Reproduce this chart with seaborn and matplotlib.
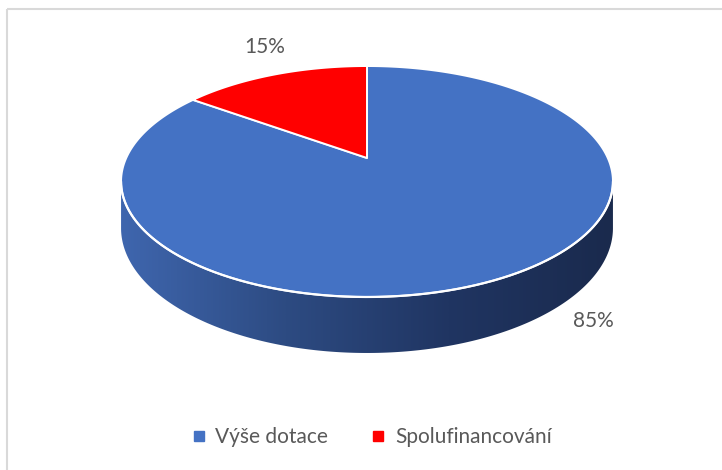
import numpy as np
import matplotlib
matplotlib.use("Agg")
import matplotlib.pyplot as plt
import seaborn as sns
from matplotlib.patches import Polygon, Rectangle
from matplotlib.lines import Line2D
from matplotlib.colors import LinearSegmentedColormap

# ---- data ----
categories = ["Výše dotace", "Spolufinancování"]
shares = [85, 15]
pct_labels = ["85%", "15%"]
colors = ["#4472C4", "#FF0000"]

sns.set_theme(style="white")
plt.rcParams['font.family'] = ['Lato', 'DejaVu Sans']

W, H = 722, 470
fig = plt.figure(figsize=(7.22, 4.70), dpi=100)
ax = fig.add_axes([0, 0, 1, 1])
ax.set_xlim(0, W)
ax.set_ylim(H, 0)
ax.axis('off')

# perspective pie geometry
cx, cy = 367, 158
a, b, k = 240.8, 110.7, 0.2035
h = 44.6

def proj(phi, r=1.0):
    u = r * np.cos(phi)
    v = r * np.sin(phi)
    s = 1 + k * v
    return cx + a * u / s, cy - b * v / s

def drop(phi):
    return h / (1 + k * np.sin(phi))

total = float(sum(shares))
start = np.pi / 2
red_frac = shares[1] / total
bounds = {
    1: (start, start + 2 * np.pi * red_frac),
    0: (start + 2 * np.pi * red_frac, start + 2 * np.pi),
}

# ---- side (front of cylinder) with gradient ----
phi_l = np.pi + np.arcsin(k)
phi_r = 2 * np.pi - np.arcsin(k)
ts = np.linspace(phi_l, phi_r, 400)
tx, ty = proj(ts)
by = ty + drop(ts)
side_pts = list(zip(tx, ty)) + list(zip(tx[::-1], by[::-1]))
side = Polygon(side_pts, closed=True, facecolor='none', edgecolor='none')
ax.add_patch(side)
cmap = LinearSegmentedColormap.from_list("side", ["#3F66AE", "#2D4B82", "#203562", "#1A2A4D"])
grad = np.linspace(0, 1, 512).reshape(1, -1)
im = ax.imshow(grad, cmap=cmap, aspect='auto', extent=(tx.min(), tx.max(), by.max() + 2, ty.min() - 2),
               zorder=1, interpolation='bilinear')
im.set_clip_path(side)
ax.set_xlim(0, W)
ax.set_ylim(H, 0)

# ---- top face slices ----
for idx in (0, 1):
    t0, t1 = bounds[idx]
    tt = np.linspace(t0, t1, 400)
    xs, ys = proj(tt)
    pts = [(cx, cy)] + list(zip(xs, ys))
    ax.add_patch(Polygon(pts, closed=True, facecolor=colors[idx], edgecolor='white',
                         linewidth=1.4, joinstyle='round', zorder=2))

# white rim on the front edge
ax.plot(tx, ty, color='white', lw=1.6, zorder=3)

# ---- labels ----
txt_color = "#595959"
ax.text(265, 47, pct_labels[1], ha='center', va='center', fontsize=15, color=txt_color)
ax.text(593, 321, pct_labels[0], ha='center', va='center', fontsize=15, color=txt_color)

# ---- legend ----
handles = [Line2D([], [], marker='s', ls='', color=c, markersize=7) for c in colors]
leg = fig.legend(handles, categories, loc='center', bbox_to_anchor=(370 / W, 1 - 437 / H),
                 ncol=2, frameon=False, fontsize=15, handletextpad=0.3, columnspacing=1.9,
                 handlelength=1.0)
for t in leg.get_texts():
    t.set_color(txt_color)

# ---- outer frame ----
ax.add_patch(Rectangle((6.5, 8.5), 900, 700, fill=False, edgecolor='#D9D9D9', lw=1.5, zorder=0))

fig.savefig("out.png", dpi=100, facecolor='white')
